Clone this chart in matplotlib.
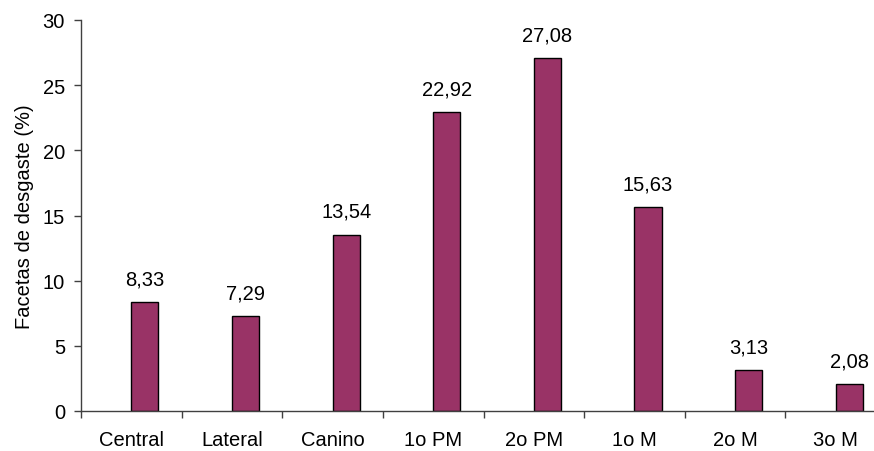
import matplotlib
matplotlib.use("Agg")
import matplotlib.pyplot as plt
import numpy as np

categories = ["Central", "Lateral", "Canino", "1o PM", "2o PM", "1o M", "2o M", "3o M"]
values = [8.33, 7.29, 13.54, 22.92, 27.08, 15.63, 3.13, 2.08]
value_labels = ["8,33", "7,29", "13,54", "22,92", "27,08", "15,63", "3,13", "2,08"]
yticks = [0, 5, 10, 15, 20, 25, 30]

plt.rcParams['font.family'] = ['Liberation Sans', 'DejaVu Sans']
fs = 14.5

fig = plt.figure(figsize=(8.74, 4.52), dpi=100)
ax = fig.add_axes([81/874, 1-412/452, 805/874, (412-21)/452])

x = np.arange(len(categories))
ax.bar(x, values, width=0.27, align='edge', color='#993366', edgecolor='black', linewidth=1.0)
for xi, v, lab in zip(x, values, value_labels):
    ax.annotate(lab, (xi + 0.135, v), xytext=(0, 10), textcoords='offset points',
                ha='center', va='bottom', fontsize=fs)

ax.set_xlim(-0.5, len(categories) - 0.5)
ax.set_ylim(0, 30)
ax.set_yticks(yticks)
ax.set_yticklabels([str(t) for t in yticks], fontsize=fs)
ax.tick_params(axis='y', direction='out', length=5, width=1, pad=6.5, color='#404040')

ax.set_xticks(np.arange(len(categories) + 1) - 0.5)
ax.set_xticklabels([''] * (len(categories) + 1))
ax.tick_params(axis='x', which='major', direction='out', length=5, width=1, color='#404040')
ax.set_xticks(x, minor=True)
ax.set_xticklabels(categories, minor=True, fontsize=fs)
ax.tick_params(axis='x', which='minor', length=0, pad=14)

for s in ['top', 'right']:
    ax.spines[s].set_visible(False)
for s in ['left', 'bottom']:
    ax.spines[s].set_color('#404040')
    ax.spines[s].set_linewidth(1)

ax.set_ylabel("Facetas de desgaste (%)", fontsize=fs)
ax.yaxis.set_label_coords(-47/805, 0.5)

fig.savefig("out.png", dpi=100)
